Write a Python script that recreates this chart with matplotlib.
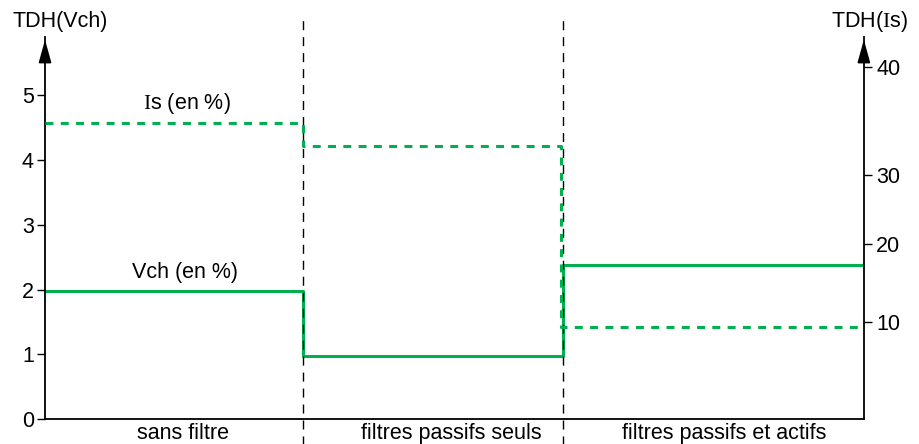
import matplotlib.pyplot as plt
import numpy as np

plt.rcParams['font.family'] = ['Liberation Sans', 'DejaVu Sans']
plt.rcParams['font.size'] = 15.5
plt.rcParams['mathtext.fontset'] = 'custom'
plt.rcParams['mathtext.rm'] = 'Liberation Serif'

categories = ['sans filtre', 'filtres passifs seuls', 'filtres passifs et actifs']
x_edges = [0, 2.58, 5.18, 8.19]
is_edges = [0, 2.58, 5.16, 8.19]
label_x = [1.38, 4.06, 6.79]
vch = [1.98, 0.98, 2.38]
is_values = [34.8, 32.7, 9.4]
vch_ticks = [0, 1, 2, 3, 4, 5]
is_ticks = [10, 20, 30, 40]
# the right axis of the original drawing is not evenly spaced
is_knots = [-5, 10, 20, 30, 40, 50]
vch_knots = [-0.3, 1.5, 2.7, 3.77, 5.43, 7.09]

green = '#00b050'
ytop = 5.9

fig = plt.figure(figsize=(9.19, 4.44), dpi=100)
ax = fig.add_axes([0.049, 0.0563, 0.891, 0.8604])

ax.step(x_edges, vch + [vch[-1]], where='post', color=green, lw=2.2)

tw = ax.twinx()
fwd = lambda v: np.interp(v, is_knots, vch_knots)
inv = lambda v: np.interp(v, vch_knots, is_knots)
tw.set_yscale('function', functions=(fwd, inv))
tw.step(is_edges, is_values + [is_values[-1]], where='post', color=green, lw=2.2, dashes=(2.6, 2.4))

ax.set_xlim(x_edges[0], x_edges[-1])
ax.set_ylim(0, ytop)
tw.set_ylim(inv(0), inv(ytop))

for s in ['top', 'right']:
    ax.spines[s].set_visible(False)
for s in ['top', 'left', 'bottom']:
    tw.spines[s].set_visible(False)
ax.spines['left'].set_linewidth(1.3)
ax.spines['bottom'].set_linewidth(1.3)
tw.spines['right'].set_linewidth(1.3)

ax.set_yticks(vch_ticks)
ax.tick_params(axis='y', length=6, width=1, pad=2)
tw.set_yticks(is_ticks)
tw.yaxis.set_minor_locator(plt.NullLocator())
tw.set_yticklabels([str(t) for t in is_ticks])
tw.tick_params(axis='y', length=6, width=1, pad=3)

ax.set_xticks(label_x, categories)
ax.tick_params(axis='x', length=0, pad=3)

for xe in x_edges[1:3]:
    ax.axvline(xe, ymin=-0.07, ymax=1.055, color='k', lw=1, dashes=(6.5, 5), clip_on=False)

for xa in [0, 1]:
    ax.annotate('', xy=(xa, 1.0), xycoords='axes fraction', xytext=(xa, 0.93),
                arrowprops=dict(arrowstyle='-|>,head_length=0.9,head_width=0.25', color='k', lw=1.3))

ax.text(1.42, 4.87, r'$\mathrm{I}$s (en %)', ha='center', va='center')
ax.text(1.40, 2.27, 'Vch (en %)', ha='center', va='center')

fig.text(60 / 919, 1 - 22 / 444, 'TDH(Vch)', ha='center', va='center')
fig.text(870 / 919, 1 - 22 / 444, r'TDH($\mathrm{I}$s)', ha='center', va='center')

fig.savefig('out.png', dpi=100)
